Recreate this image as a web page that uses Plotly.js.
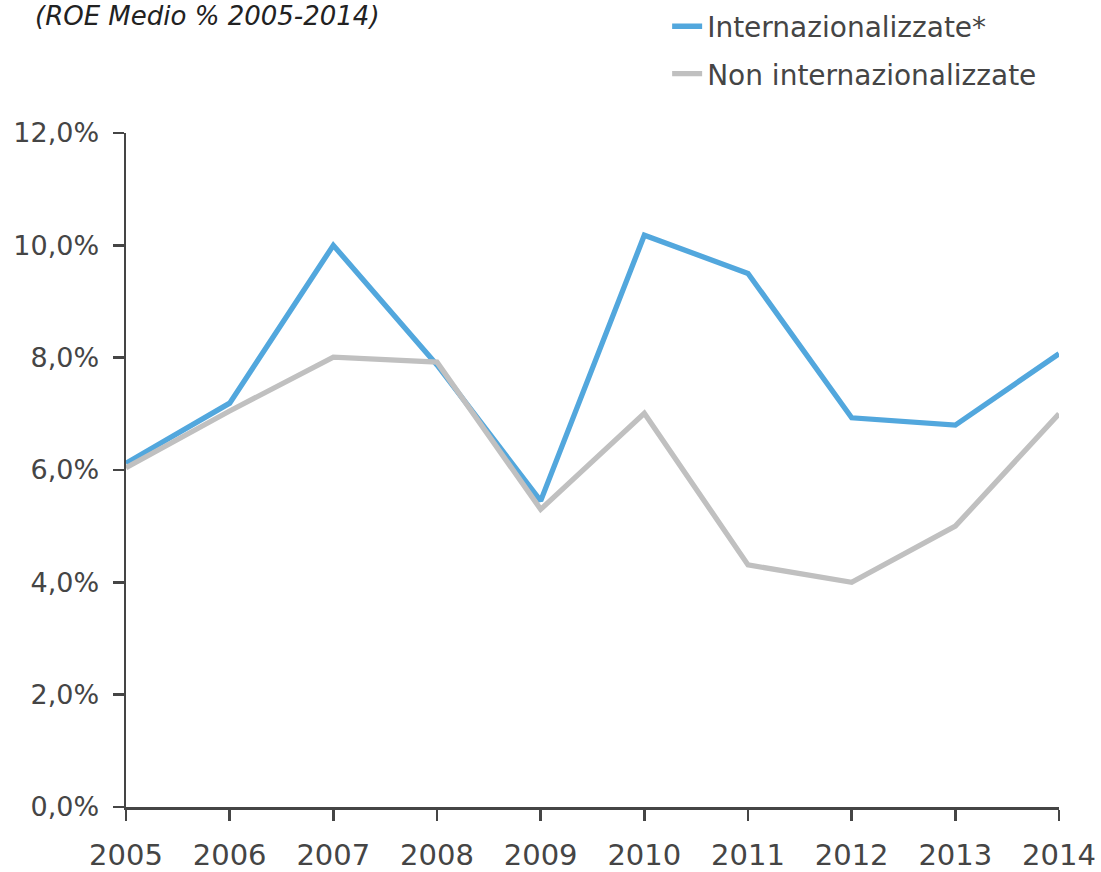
<!DOCTYPE html>
<html>
<head>
<meta charset="utf-8">
<script src="https://cdn.plot.ly/plotly-3.0.1.min.js"></script>
<style>html,body{margin:0;padding:0;background:#fff;}#chart{width:1101px;height:872px;}</style>
</head>
<body>
<div id="chart"></div>
<script>
const years = [2005, 2006, 2007, 2008, 2009, 2010, 2011, 2012, 2013, 2014];
const internazionalizzate = [6.12, 7.19, 10.0, 7.87, 5.45, 10.18, 9.5, 6.93, 6.8, 8.07];
const nonInternazionalizzate = [6.04, 7.05, 8.01, 7.92, 5.3, 7.01, 4.31, 4.0, 5.0, 7.0];
const seriesNames = ['Internazionalizzate*', 'Non internazionalizzate'];
const yTicks = [0, 2, 4, 6, 8, 10, 12];
const yTickLabels = ['0,0%', '2,0%', '4,0%', '6,0%', '8,0%', '10,0%', '12,0%'];
const subtitle = '(ROE Medio % 2005-2014)';

const FONT = '"DejaVu Sans", sans-serif';
const TXT = '#454545';

const traces = [
  {x: years, y: internazionalizzate, name: seriesNames[0], legendgroup: 'a', type: 'scatter', mode: 'lines',
   line: {color: '#52A7DD', width: 5.3}},
  {x: years, y: nonInternazionalizzate, name: seriesNames[1], legendgroup: 'b', type: 'scatter', mode: 'lines',
   line: {color: '#C0C0C0', width: 5.3}}
];

const layout = {
  width: 1101, height: 872,
  margin: {l: 126, r: 42, t: 133, b: 65, autoexpand: false},
  paper_bgcolor: '#fff', plot_bgcolor: '#fff',
  font: {family: FONT, color: TXT, size: 28},
  showlegend: true,
  legend: {x: 0.58, y: 1.195, xanchor: 'left', yanchor: 'top', traceorder: 'grouped', tracegroupgap: 8,
           font: {size: 28, color: TXT, family: FONT},
           bgcolor: 'rgba(0,0,0,0)'},
  xaxis: {range: [2005, 2014], tickvals: years, ticktext: years.map(String), showgrid: false, zeroline: false,
          showline: true, linecolor: TXT, linewidth: 2.5, ticks: 'outside', ticklen: 11, tickwidth: 2.5, tickcolor: TXT,
          tickfont: {size: 29, color: TXT}, ticklabelstandoff: 10},
  yaxis: {range: [0, 12], tickvals: yTicks, ticktext: yTickLabels, showgrid: false, zeroline: false,
          showline: true, linecolor: TXT, linewidth: 2.5, ticks: 'outside', ticklen: 11, tickwidth: 2.5, tickcolor: TXT,
          tickfont: {size: 27, color: TXT}, ticklabelstandoff: 8},
  annotations: [
    {text: subtitle, xref: 'paper', yref: 'paper', x: -0.1, y: 1.173, xanchor: 'left', yanchor: 'middle',
     showarrow: false, font: {size: 26, color: '#222', family: FONT, style: 'italic'}}
  ]
};

Plotly.newPlot('chart', traces, layout, {displayModeBar: false, staticPlot: true});
</script>
</body>
</html>
